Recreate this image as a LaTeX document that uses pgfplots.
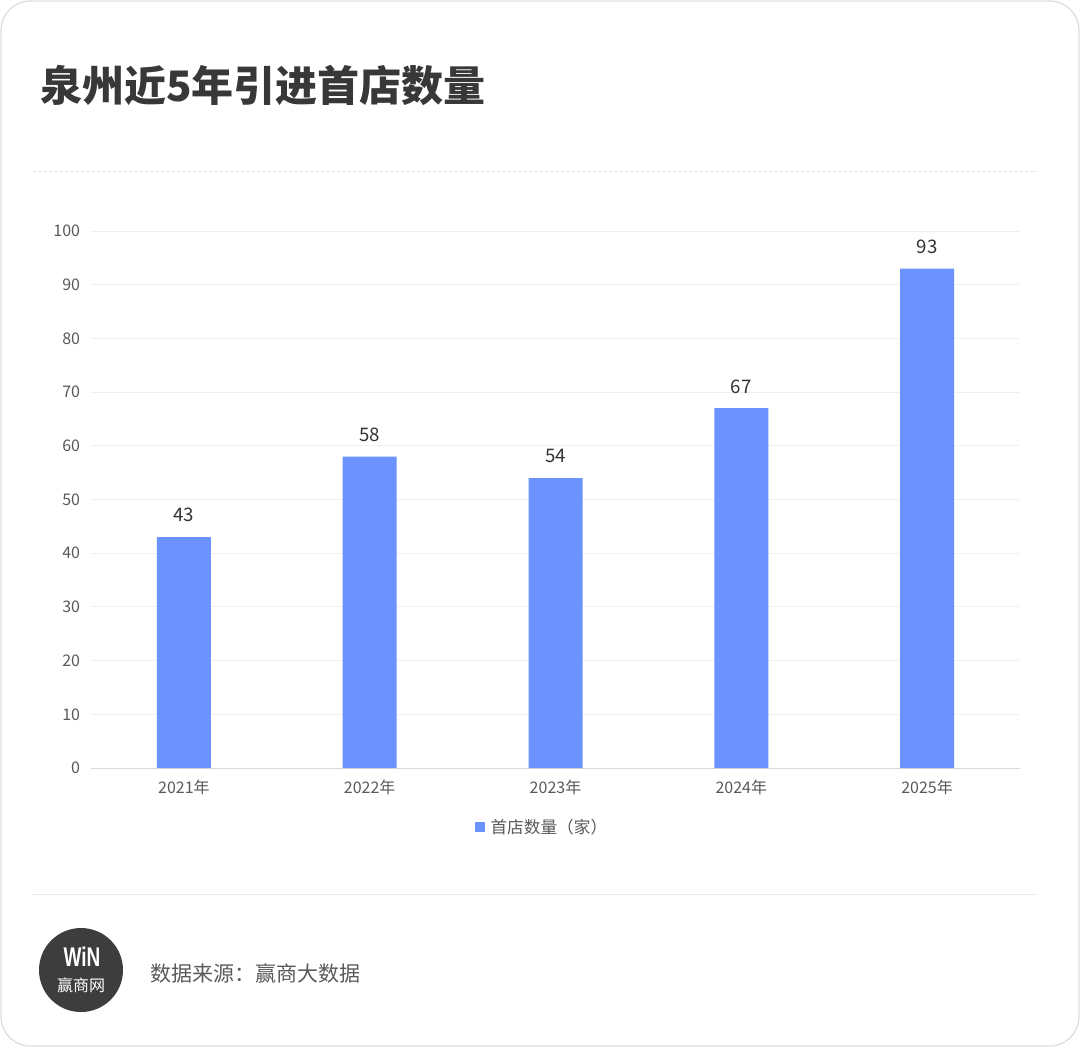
\documentclass[border=0pt]{standalone}
\usepackage{fontspec}
\setmainfont{Noto Sans CJK SC}
\newfontfamily\latinbold{Liberation Sans}
\usepackage{pgfplots}
\pgfplotsset{compat=1.18}
\definecolor{barblue}{HTML}{6B92FF}
\definecolor{titlegray}{HTML}{383838}
\definecolor{tickgray}{HTML}{595959}
\definecolor{labelgray}{HTML}{333333}
\definecolor{srcgray}{HTML}{5A5A5A}
\definecolor{logogray}{HTML}{3D3D3D}
\begin{document}
\begin{tikzpicture}[x=0.75pt,y=-0.75pt]
\useasboundingbox (0,0) rectangle (1080,1047);
\draw[gray!25, fill=white, rounded corners=22pt, line width=1pt] (1,1) rectangle (1079,1046);
% title
\node[anchor=west, inner sep=0pt, text=titlegray, font=\fontsize{31.5pt}{32pt}\selectfont\bfseries] at (40,85) {泉州近5年引进首店数量};
% separators
\draw[gray!22, line width=0.75pt, dash pattern=on 2.5pt off 1.5pt] (33,171) -- (1037,171);
\draw[gray!18, line width=0.75pt] (33,894) -- (1037,894);
% chart
\begin{axis}[
  at={(68.25pt,-576pt)}, anchor=south west,
  scale only axis, width=696.75pt, height=402.75pt,
  xmin=-0.5, xmax=4.5, ymin=0, ymax=100,
  ytick={0,10,...,100}, xtick={0,1,2,3,4},
  xticklabels={2021年,2022年,2023年,2024年,2025年},
  axis lines*=left,
  x axis line style={draw=gray!30, line width=0.75pt},
  y axis line style={draw=none},
  major tick length=0pt,
  ymajorgrids, grid style={draw=gray!12, line width=0.75pt},
  /pgf/number format/assume math mode=true,
  yticklabel style={font=\fontsize{12pt}{12pt}\selectfont, text=tickgray, anchor=east, inner sep=0pt, xshift=-8pt},
  xticklabel style={font=\fontsize{12pt}{12pt}\selectfont, text=tickgray, anchor=north, inner sep=0pt, yshift=-9pt},
  ybar, bar width=40.5pt,
  nodes near coords,
  nodes near coords style={font=\fontsize{14pt}{14pt}\selectfont, text=labelgray, anchor=south, inner sep=0pt, yshift=11pt},
  legend style={at={(0.5,0)}, anchor=center, yshift=-44.25pt, xshift=-11pt, draw=none, fill=none, inner sep=0pt,
    font=\fontsize{12.5pt}{13pt}\selectfont, text=tickgray, column sep=4.5pt, nodes={inner sep=0pt}},
  legend image code/.code={\fill[barblue] (0pt,-3.75pt) rectangle (7.5pt,3.75pt);},
]
\addplot[fill=barblue, draw=none] coordinates {(0,43) (1,58) (2,54) (3,67) (4,93)};
\addlegendentry{首店数量（家）}
\end{axis}
% logo
\fill[logogray] (81,970) circle[radius=42];
\node[text=white, inner sep=0pt, font=\latinbold\bfseries\fontsize{15pt}{15pt}\selectfont, yscale=1.35, xscale=0.95] at (82,957) {WiN};
\node[text=white, inner sep=0pt, font=\fontsize{12pt}{12pt}\selectfont] at (81,985) {赢商网};
% source
\node[anchor=west, inner sep=0pt, text=srcgray, font=\fontsize{15.75pt}{16pt}\selectfont] at (150,973) {数据来源：赢商大数据};
\end{tikzpicture}
\end{document}
